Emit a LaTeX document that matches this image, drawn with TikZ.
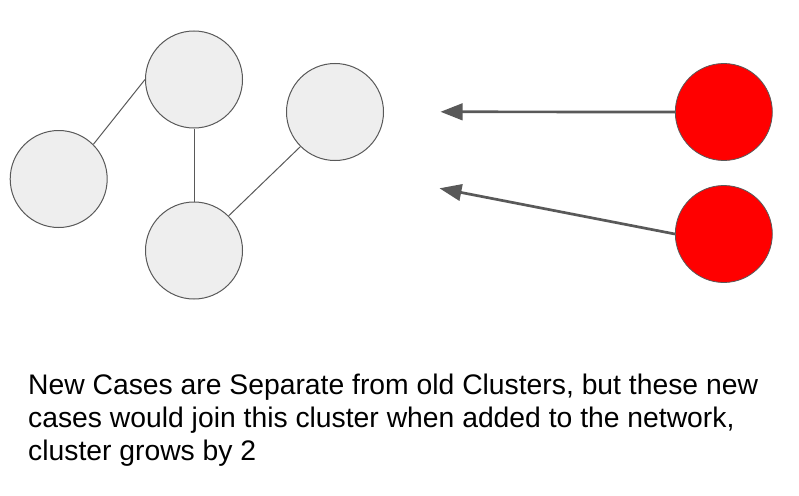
\documentclass[tikz,border=0pt]{standalone}
\usepackage{fontspec}
\setmainfont{Liberation Sans}
\usetikzlibrary{arrows.meta}
\definecolor{nodegray}{HTML}{EEEEEE}
\definecolor{edgegray}{HTML}{595959}
\definecolor{casered}{HTML}{FF0000}
\begin{document}
\begin{tikzpicture}[x=1pt,y=-1pt,
  oldcase/.style={circle,draw=edgegray,line width=1pt,fill=nodegray,minimum size=97pt,inner sep=0pt},
  newcase/.style={circle,draw=edgegray,line width=0.8pt,fill=casered,minimum size=97pt,inner sep=0pt},
  link/.style={draw=edgegray,line width=1pt},
  joinarrow/.style={draw=edgegray,line width=2.7pt,-{Triangle[length=22pt,width=16.5pt]}},
  caption/.style={anchor=base west,inner sep=0pt,font=\fontsize{28.3}{33}\selectfont}]
\useasboundingbox (0,0) rectangle (799,495);
\node[oldcase] (A) at (58.7,179) {};
\node[oldcase] (B) at (194,79.5) {};
\node[oldcase] (C) at (335,112) {};
\node[oldcase] (D) at (194,250.5) {};
\node[newcase] (E) at (723.8,112) {};
\node[newcase] (F) at (723.8,234) {};
\coordinate (e1) at (440.5,111.8);
\coordinate (e2) at (439.5,188.3);
\draw[link] (A.45) -- (B.west);
\draw[link] (B.south) -- (D.north);
\draw[link] (C.225) -- (D.45);
\draw[joinarrow] (E.west) -- (e1);
\draw[joinarrow] (F.west) -- (e2);
\node[caption] (t1) at (28,394.3) {New Cases are Separate from old Clusters, but these new};
\node[caption] (t2) at (28,427.5) {cases would join this cluster when added to the network,};
\node[caption] (t3) at (28,460.5) {cluster grows by 2};
\end{tikzpicture}
\end{document}
